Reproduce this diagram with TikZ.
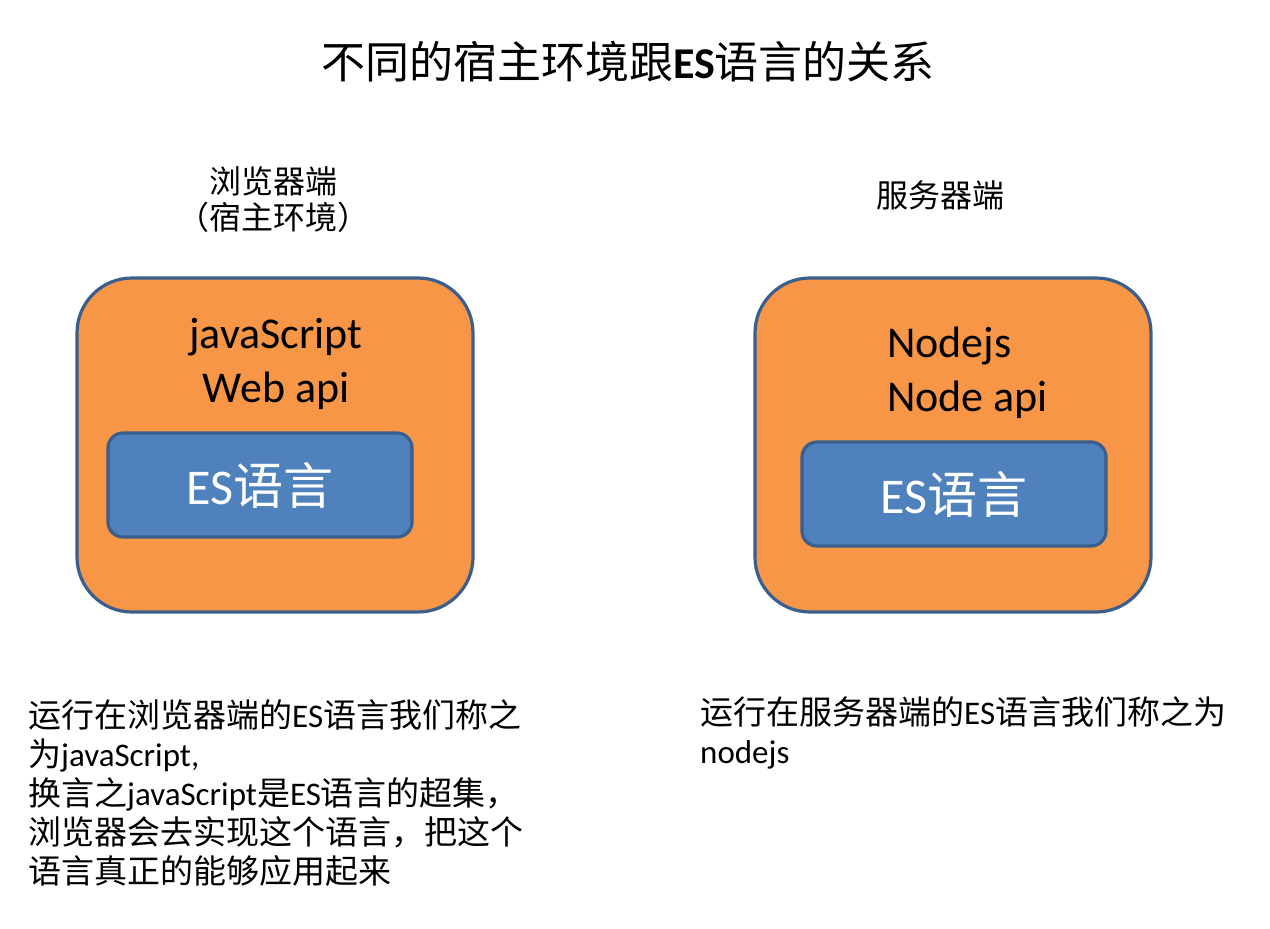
\documentclass[tikz,border=0pt]{standalone}
\usepackage{fontspec}
\setmainfont{Carlito}
\newfontfamily\cjk{Noto Sans CJK SC}
\newcommand{\zh}[1]{{\cjk #1}}
\usetikzlibrary{positioning}
\definecolor{hostorange}{HTML}{F79646}
\definecolor{esblue}{HTML}{4F81BD}
\definecolor{boxline}{HTML}{3A5F8C}

\begin{document}
\begin{tikzpicture}[x=1pt, y=-1pt,
    hostbox/.style={draw=boxline, fill=hostorange, line width=3.2pt, rounded corners=55pt,
        minimum width=396pt, minimum height=334pt, inner sep=0pt},
    esbox/.style={draw=boxline, fill=esblue, line width=3.2pt, rounded corners=15pt,
        minimum width=304pt, minimum height=104pt, inner sep=0pt,
        text=white, font=\fontsize{50}{56}\selectfont},
    apitext/.style={inner sep=0pt, font=\fontsize{44}{54}\selectfont},
    sidelabel/.style={inner sep=0pt, align=center, font=\fontsize{32}{36}\selectfont},
    note/.style={inner sep=0pt, anchor=west, align=left, font=\fontsize{33}{39}\selectfont}]
    \useasboundingbox (0,0) rectangle (1270,929);

    % 标题
    \node[inner sep=0pt, font=\fontsize{44}{50}\selectfont] (title) at (628,62)
        {\zh{不同的宿主环境跟}\textbf{ES}\zh{语言的关系}};

    % 浏览器端
    \node[sidelabel] (browserlabel) at (273,200) {\zh{浏览器端}\\\zh{（宿主环境）}};
    \node[hostbox] (browser) at (275,445) {};
    \node[apitext, align=center] (webapi) at (276,364) {javaScript\\Web api};
    \node[esbox] (esleft) at (260,485) {ES\zh{语言}};

    % 服务器端
    \node[sidelabel] (serverlabel) at (940,195) {\zh{服务器端}};
    \node[hostbox] (server) at (953,445) {};
    \node[apitext, align=left, anchor=west] (nodeapi) at (887,373) {Nodejs\\Node api};
    \node[esbox] (esright) at (954,494) {ES\zh{语言}};

    % 下方说明
    \node[note] (browsernote) at (28,793)
        {\zh{运行在浏览器端的}ES\zh{语言我们称之}\\
         \zh{为}javaScript,\\
         \zh{换言之}javaScript\zh{是}ES\zh{语言的超集，}\\
         \zh{浏览器会去实现这个语言，把这个}\\
         \zh{语言真正的能够应用起来}};
    \node[note] (servernote) at (700,733)
        {\zh{运行在服务器端的}ES\zh{语言我们称之为}\\
         nodejs};
\end{tikzpicture}
\end{document}
